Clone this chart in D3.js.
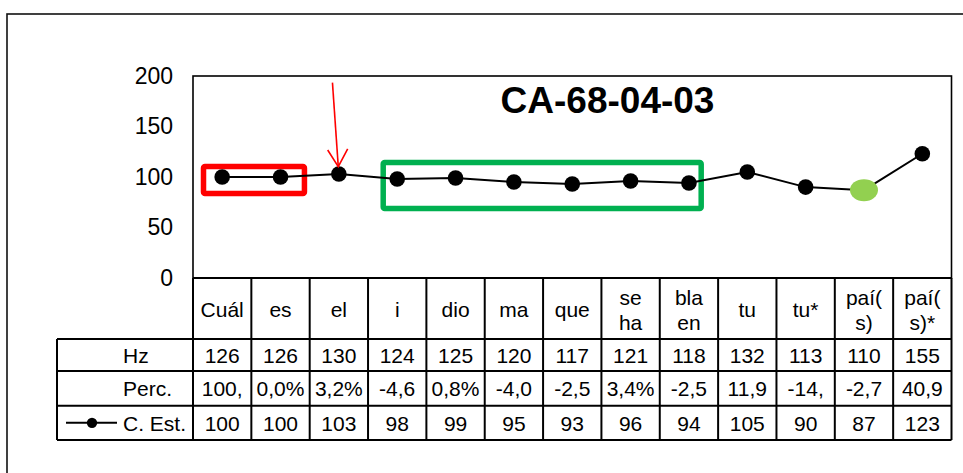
<!DOCTYPE html>
<html>
<head>
<meta charset="utf-8">
<script src="https://cdn.jsdelivr.net/npm/d3@7"></script>
<style>
  html, body { margin: 0; padding: 0; background: #fff; }
  svg { display: block; font-family: "Liberation Sans", Arial, sans-serif; }
</style>
</head>
<body>
<svg id="chart" width="963" height="473"></svg>
<script>
// ---- data ----
const categories = [["Cuál"], ["es"], ["el"], ["i"], ["dio"], ["ma"], ["que"], ["se", "ha"], ["bla", "en"], ["tu"], ["tu*"], ["paí(", "s)"], ["paí(", "s)*"]];
const hzValues = [126, 126, 130, 124, 125, 120, 117, 121, 118, 132, 113, 110, 155];
const percLabels = ["100,", "0,0%", "3,2%", "-4,6", "0,8%", "-4,0", "-2,5", "3,4%", "-2,5", "11,9", "-14,", "-2,7", "40,9"];
const estValues = [100, 100, 103, 98, 99, 95, 93, 96, 94, 105, 90, 87, 123];
const yTicks = [0, 50, 100, 150, 200];
const rowNames = ["Hz", "Perc.", "C. Est."];
const title = "CA-68-04-03";
const highlightIndex = 11;
// annotation boxes in category-index / value units
const redBox = { from: -0.32, to: 1.41, top: 110.4, bottom: 83.7 };
const greenBox = { from: 2.76, to: 8.21, top: 114.4, bottom: 68.8 };
const arrow = { fromIdx: 1.89, fromVal: 193.4, toIdx: 1.99, toVal: 110.2 };

// ---- layout ----
const svg = d3.select("#chart");
const plotL = 193, plotR = 951.5, plotT = 76, plotB = 278;
const labelL = 57;
const rowLines = [278, 339, 371, 405.7, 440];
const font = 21;

const x = d3.scaleBand().domain(d3.range(categories.length)).range([plotL, plotR]).padding(0);
const bw = x.bandwidth();
const xc = i => x(i) + bw / 2;
const xf = f => plotL + bw * (f + 0.5);
const y = d3.scaleLinear().domain([0, 200]).range([plotB, plotT]);

// outer chart border
svg.append("rect").attr("x", 7).attr("y", 14).attr("width", 1000).attr("height", 500)
  .attr("fill", "none").attr("stroke", "#111").attr("stroke-width", 1.6);

// plot frame
svg.append("rect").attr("x", plotL).attr("y", plotT).attr("width", plotR - plotL).attr("height", plotB - plotT)
  .attr("fill", "none").attr("stroke", "#000").attr("stroke-width", 1.6);

// y axis
const yAxis = d3.axisLeft(y).tickValues(yTicks).tickSize(0).tickPadding(20);
const gy = svg.append("g").attr("transform", `translate(${plotL},0)`).call(yAxis);
gy.select(".domain").remove();
gy.selectAll("text").attr("font-size", 23).attr("fill", "#000")
  .attr("font-family", '"Liberation Sans", Arial, sans-serif');

// title
svg.append("text").attr("x", 607.5).attr("y", 113).attr("text-anchor", "middle")
  .attr("font-size", 37).attr("font-weight", "bold").attr("fill", "#000").text(title);

// annotation boxes
function box(b, color) {
  svg.append("rect").attr("x", xf(b.from)).attr("y", y(b.top))
    .attr("width", xf(b.to) - xf(b.from)).attr("height", y(b.bottom) - y(b.top))
    .attr("rx", 1.5).attr("fill", "none").attr("stroke", color).attr("stroke-width", 5.5);
}
box(redBox, "#ff0000");
box(greenBox, "#00b050");

// line
const line = d3.line().x((d, i) => xc(i)).y(d => y(d));
svg.append("path").datum(estValues).attr("d", line)
  .attr("fill", "none").attr("stroke", "#000").attr("stroke-width", 2);

// markers
estValues.forEach((d, i) => {
  if (i === highlightIndex) {
    svg.append("ellipse").attr("cx", xc(i)).attr("cy", y(d)).attr("rx", 14).attr("ry", 11).attr("fill", "#92d050");
  } else {
    svg.append("circle").attr("cx", xc(i)).attr("cy", y(d)).attr("r", 7.8).attr("fill", "#000");
  }
});

// red arrow
const ax1 = xf(arrow.fromIdx), ay1 = y(arrow.fromVal), ax2 = xf(arrow.toIdx), ay2 = y(arrow.toVal);
svg.append("line").attr("x1", ax1).attr("y1", ay1).attr("x2", ax2).attr("y2", ay2)
  .attr("stroke", "#ff0000").attr("stroke-width", 1.6);
svg.append("path").attr("d", `M${ax2 - 10.6},${ay2 - 16.7}L${ax2},${ay2}L${ax2 + 9.4},${ay2 - 17.7}`)
  .attr("fill", "none").attr("stroke", "#ff0000").attr("stroke-width", 1.6);

// ---- data table ----
const tg = svg.append("g");
const lw = 2;
tg.append("line").attr("x1", plotL).attr("x2", plotR).attr("y1", rowLines[0]).attr("y2", rowLines[0]).attr("stroke", "#000").attr("stroke-width", lw);
rowLines.slice(1).forEach(yy => {
  tg.append("line").attr("x1", labelL).attr("x2", plotR).attr("y1", yy).attr("y2", yy).attr("stroke", "#000").attr("stroke-width", lw);
});
d3.range(categories.length + 1).forEach(i => {
  const xx = i < categories.length ? x(i) : plotR;
  tg.append("line").attr("x1", xx).attr("x2", xx).attr("y1", rowLines[0]).attr("y2", rowLines[4]).attr("stroke", "#000").attr("stroke-width", lw);
});
tg.append("line").attr("x1", labelL).attr("x2", labelL).attr("y1", rowLines[1]).attr("y2", rowLines[4]).attr("stroke", "#000").attr("stroke-width", lw);

// header labels
categories.forEach((lines, i) => {
  const t = tg.append("text").attr("text-anchor", "middle").attr("font-size", font).attr("fill", "#000");
  const mid = (rowLines[0] + rowLines[1]) / 2;
  if (lines.length === 1) {
    t.append("tspan").attr("x", xc(i)).attr("y", mid + 8.5).text(lines[0]);
  } else {
    t.append("tspan").attr("x", xc(i)).attr("y", mid - 4).text(lines[0]);
    t.append("tspan").attr("x", xc(i)).attr("y", mid + 21.5).text(lines[1]);
  }
});

// row values
const rows = [hzValues.map(String), percLabels, estValues.map(String)];
rows.forEach((vals, r) => {
  const base = (rowLines[r + 1] + rowLines[r + 2]) / 2 + 8;
  vals.forEach((v, i) => {
    tg.append("text").attr("x", xc(i)).attr("y", base).attr("text-anchor", "middle")
      .attr("font-size", font).attr("fill", "#000").text(v);
  });
  tg.append("text").attr("x", 123).attr("y", base).attr("font-size", font).attr("fill", "#000").text(rowNames[r]);
});

// legend key for C. Est.
const keyY = (rowLines[3] + rowLines[4]) / 2;
tg.append("line").attr("x1", 66).attr("x2", 117).attr("y1", keyY).attr("y2", keyY).attr("stroke", "#000").attr("stroke-width", 2);
tg.append("circle").attr("cx", 92).attr("cy", keyY).attr("r", 5.2).attr("fill", "#000");
</script>
</body>
</html>
